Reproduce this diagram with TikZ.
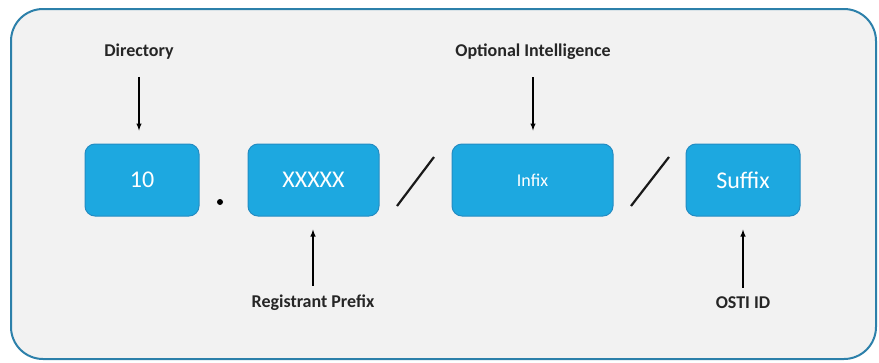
\documentclass[tikz,border=0pt]{standalone}
\usepackage{fontspec}
\setmainfont{Carlito}
\usepackage{tikz}
\usetikzlibrary{calc, positioning}

\definecolor{boxblue}{RGB}{29,168,224}
\definecolor{boxedge}{RGB}{35,140,195}
\definecolor{frameblue}{RGB}{44,128,170}
\definecolor{panel}{RGB}{242,242,242}

\tikzset{
  part/.style={draw=boxedge, line width=1pt, fill=boxblue, rounded corners=10pt,
    text=white, minimum height=72pt, font=\fontsize{24}{28}\selectfont},
  tag/.style={font=\fontsize{18}{22}\selectfont\bfseries, text=black!85, inner sep=0pt},
  sep/.style={line width=2.2pt, black!90},
  pointer/.style={line width=1.4pt, ->, shorten >=13pt}
}

\begin{document}
\begin{tikzpicture}[>=latex, x=1pt, y=-1pt]
  \useasboundingbox (0,0) rectangle (879,362);
  % frame
  \draw [draw=frameblue, line width=2pt, fill=panel, rounded corners=32pt] (11,9) rectangle (876,359);
  % parts of the identifier
  \node [part, minimum width=114pt] (dir) at (142,180) {10};
  \node [part, minimum width=131pt] (prefix) at (313.5,180) {XXXXX};
  \node [part, minimum width=161pt, font=\fontsize{18}{22}\selectfont] (infix) at (532.5,180) {Infix};
  \node [part, minimum width=114pt] (suffix) at (743,180) {Suffix};
  % separators
  \fill (220,202) circle [radius =3pt];
  \draw [sep] (397,206) -- (434,157);
  \draw [sep] (631,206) -- (669,157);
  % labels
  \node [tag] (dirlbl) at (139,52) {Directory};
  \node [tag] (prefixlbl) at (313,303) {Registrant Prefix};
  \node [tag] (infixlbl) at (533,52) {Optional Intelligence};
  \node [tag] (suffixlbl) at (743,303) {OSTI ID};
  % arrows
  \draw [pointer, shorten <=17pt] (dirlbl.south) -- (dirlbl.south |- dir.north);
  \draw [pointer, shorten <=17pt] (infixlbl.south) -- (infixlbl.south |- infix.north);
  \draw [pointer, shorten <=9pt] (prefixlbl.north) -- (prefixlbl.north |- prefix.south);
  \draw [pointer, shorten <=9pt] (suffixlbl.north) -- (suffixlbl.north |- suffix.south);
\end{tikzpicture}
\end{document}
